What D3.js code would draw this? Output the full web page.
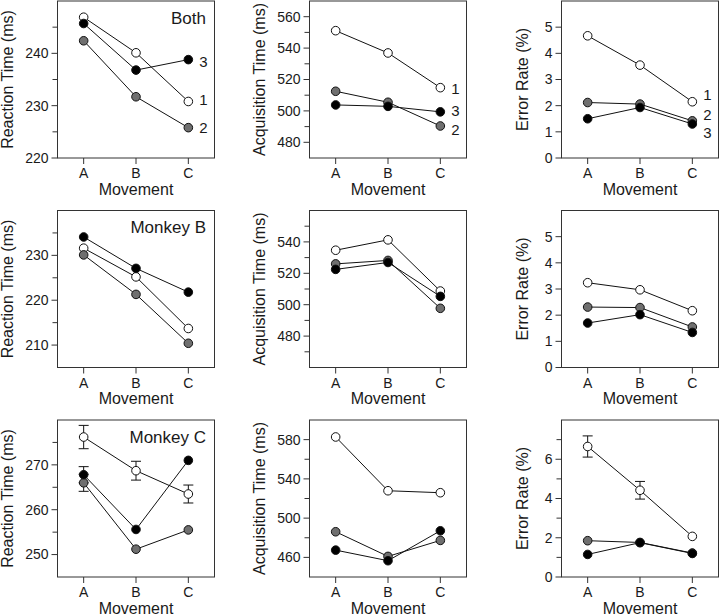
<!DOCTYPE html>
<html>
<head>
<meta charset="utf-8">
<script src="https://cdn.jsdelivr.net/npm/d3@7"></script>
<style>
  body { margin: 0; background: #fff; }
  svg text { font-family: 'Liberation Sans', Arial, Helvetica, sans-serif; fill: #1a1a1a; }
  .frame { fill: none; stroke: #333; stroke-width: 1; }
  .tick { stroke: #333; stroke-width: 1; }
  .tick-label { font-size: 14px; }
  .axis-title { font-size: 16px; }
  .panel-title { font-size: 17px; }
  .series-label { font-size: 15px; }
  .conn { fill: none; stroke: #111; stroke-width: 1; }
  .err { stroke: #111; stroke-width: 1; }
  .dot { stroke: #111; stroke-width: 1; }
</style>
</head>
<body>
<div id="chart"></div>
<script>
const movements = ['A', 'B', 'C'];
const seriesNames = ['1', '2', '3'];
const rowTitles = ['Both', 'Monkey B', 'Monkey C'];
const colTitles = ['Reaction Time (ms)', 'Acquisition Time (ms)', 'Error Rate (%)'];

// each array: [series 1 (open), series 2 (gray), series 3 (black)] x [A, B, C]
const rtBoth = [[246.9, 240.1, 230.8], [242.4, 231.7, 225.8], [245.7, 236.8, 238.8]];
const acqBoth = [[551.1, 536.9, 514.8], [512.5, 505.5, 490.4], [503.8, 502.9, 499.4]];
const errBoth = [[4.67, 3.55, 2.15], [2.12, 2.06, 1.42], [1.5, 1.93, 1.3]];

const rtMonkeyB = [[231.6, 225.2, 213.7], [230.1, 221.3, 210.4], [234.1, 227.1, 221.8]];
const acqMonkeyB = [[534.7, 541.3, 508.7], [526.0, 528.2, 497.7], [522.5, 526.9, 505.3]];
const errMonkeyB = [[3.24, 2.97, 2.17], [2.31, 2.29, 1.55], [1.7, 2.02, 1.34]];

const rtMonkeyC = [[276.2, 268.7, 263.5], [266.0, 251.2, 255.5], [267.8, 255.6, 271.0]];
const rtMonkeyCSem = [[2.6, 2.1, 2.0], [1.9, 0, 0], [1.8, 0, 0]];
const acqMonkeyC = [[582.7, 527.9, 525.9], [486.1, 461.0, 477.3], [467.4, 456.6, 487.1]];
const errMonkeyC = [[6.65, 4.42, 2.07], [1.85, 1.76, 1.22], [1.15, 1.75, 1.2]];
const errMonkeyCSem = [[0.54, 0.45, 0], [0, 0, 0], [0, 0, 0]];

// where the series numbers sit (data units) in the "Both" row
const rtBothLabels = [231.1, 225.8, 238.4];
const acqBothLabels = [514.5, 488.3, 500.4];
const errBothLabels = [2.41, 1.67, 0.97];

const fills = ['#ffffff', '#6f6f6f', '#000000'];

const panels = [
  { row: 0, col: 0, values: rtBoth, domain: [220, 250], major: [220, 230, 240], minor: [225, 235, 245], labels: rtBothLabels },
  { row: 0, col: 1, values: acqBoth, domain: [470, 570], major: [480, 500, 520, 540, 560], minor: [490, 510, 530, 550], labels: acqBothLabels },
  { row: 0, col: 2, values: errBoth, domain: [0, 6], major: [0, 1, 2, 3, 4, 5], minor: [], labels: errBothLabels },
  { row: 1, col: 0, values: rtMonkeyB, domain: [205, 240], major: [210, 220, 230], minor: [215, 225, 235] },
  { row: 1, col: 1, values: acqMonkeyB, domain: [460, 560], major: [480, 500, 520, 540], minor: [470, 490, 510, 530, 550] },
  { row: 1, col: 2, values: errMonkeyB, domain: [0, 6], major: [0, 1, 2, 3, 4, 5], minor: [] },
  { row: 2, col: 0, values: rtMonkeyC, sem: rtMonkeyCSem, domain: [245, 280], major: [250, 260, 270], minor: [255, 265, 275] },
  { row: 2, col: 1, values: acqMonkeyC, domain: [440, 600], major: [460, 500, 540, 580], minor: [480, 520, 560] },
  { row: 2, col: 2, values: errMonkeyC, sem: errMonkeyCSem, domain: [0, 8], major: [0, 2, 4, 6], minor: [1, 3, 5, 7] },
];

const width = 720, height = 615;
const pw = 157, ph = 157;
const lefts = [57.5, 309.5, 561.5];
const tops = [1, 210.5, 420];
const titleOffsets = [44.5, 44.5, 34];
const r = 4.3;

const svg = d3.select('#chart').append('svg')
  .attr('width', width)
  .attr('height', height);

panels.forEach(drawPanel);

function drawPanel(p) {
  const left = lefts[p.col], top = tops[p.row];
  const g = svg.append('g').attr('transform', `translate(${left},${top})`);

  const x = d3.scaleLinear().domain([-0.5, 2.5]).range([0, pw]);
  const y = d3.scaleLinear().domain(p.domain).range([ph, 0]);

  g.append('rect').attr('class', 'frame')
    .attr('x', 0).attr('y', 0).attr('width', pw).attr('height', ph);

  // y ticks
  g.selectAll('.ymajor').data(p.major).join('line')
    .attr('class', 'tick ymajor')
    .attr('x1', -6).attr('x2', 0)
    .attr('y1', d => y(d)).attr('y2', d => y(d));
  g.selectAll('.yminor').data(p.minor).join('line')
    .attr('class', 'tick yminor')
    .attr('x1', -5).attr('x2', 0)
    .attr('y1', d => y(d)).attr('y2', d => y(d));
  g.selectAll('.ylab').data(p.major).join('text')
    .attr('class', 'tick-label ylab')
    .attr('x', -9)
    .attr('y', d => y(d))
    .attr('dy', '0.35em')
    .attr('text-anchor', 'end')
    .text(d => d);

  // x ticks
  g.selectAll('.xtick').data(movements).join('line')
    .attr('class', 'tick xtick')
    .attr('x1', (d, i) => x(i)).attr('x2', (d, i) => x(i))
    .attr('y1', ph).attr('y2', ph + 6);
  g.selectAll('.xlab').data(movements).join('text')
    .attr('class', 'tick-label xlab')
    .attr('x', (d, i) => x(i))
    .attr('y', ph + 20)
    .attr('text-anchor', 'middle')
    .text(d => d);

  g.append('text').attr('class', 'axis-title')
    .attr('x', pw / 2)
    .attr('y', ph + 36.5)
    .attr('text-anchor', 'middle')
    .text('Movement');

  g.append('text').attr('class', 'axis-title')
    .attr('transform', `translate(${-titleOffsets[p.col]},${ph / 2}) rotate(-90)`)
    .attr('text-anchor', 'middle')
    .text(colTitles[p.col]);

  if (p.col === 0) {
    g.append('text').attr('class', 'panel-title')
      .attr('x', pw - 8.5)
      .attr('y', 22.5)
      .attr('text-anchor', 'end')
      .text(rowTitles[p.row]);
  }

  const line = d3.line().x((d, i) => x(i)).y(d => y(d));

  // connecting lines
  p.values.forEach(s => {
    g.append('path').attr('class', 'conn').attr('d', line(s));
  });

  // error bars
  if (p.sem) {
    p.values.forEach((s, k) => {
      s.forEach((v, i) => {
        const e = p.sem[k][i];
        if (!e) return;
        const cx = x(i);
        g.append('line').attr('class', 'err')
          .attr('x1', cx).attr('x2', cx).attr('y1', y(v + e)).attr('y2', y(v - e));
        [v + e, v - e].forEach(t => {
          g.append('line').attr('class', 'err')
            .attr('x1', cx - 5).attr('x2', cx + 5).attr('y1', y(t)).attr('y2', y(t));
        });
      });
    });
  }

  // markers, open first, black on top
  p.values.forEach((s, k) => {
    g.selectAll(`.dot${k}`).data(s).join('circle')
      .attr('class', `dot dot${k}`)
      .attr('cx', (d, i) => x(i))
      .attr('cy', d => y(d))
      .attr('r', r)
      .style('fill', fills[k]);
  });

  if (p.labels) {
    g.selectAll('.slab').data(p.labels).join('text')
      .attr('class', 'series-label slab')
      .attr('x', x(2) + 11)
      .attr('y', d => y(d))
      .attr('dy', '0.36em')
      .text((d, i) => seriesNames[i]);
  }
}
</script>
</body>
</html>
